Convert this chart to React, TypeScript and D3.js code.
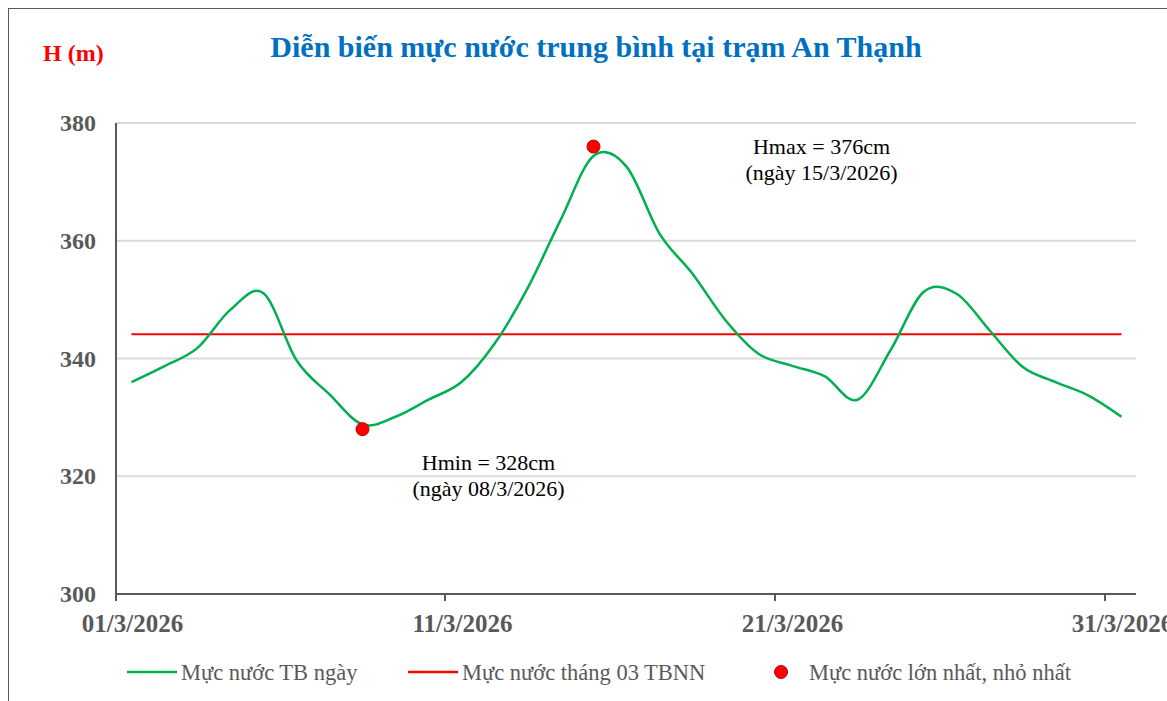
import React from 'react'
import * as d3 from 'd3'

// ngày trong tháng 3/2026
const days = [1, 2, 3, 4, 5, 6, 7, 8, 9, 10, 11, 12, 13, 14, 15, 16, 17, 18, 19, 20, 21, 22, 23, 24, 25, 26, 27, 28, 29, 30, 31]
// mực nước TB ngày (cm)
const waterLevel = [336, 338.7, 341.8, 348.3, 351.1, 339.7, 333.9, 328.8, 330.1, 333.0, 336.0, 342.5, 351.9, 363.5, 374.4, 372.6, 361.2, 354.4, 346.5, 340.8, 338.8, 337.0, 333.0, 341.4, 351.3, 351.0, 344.8, 338.6, 336.0, 333.7, 330.1]
// mực nước tháng 03 TBNN
const meanLevel = 344.1
// lớn nhất, nhỏ nhất
const extremeDays = [8, 15]
const extremeValues = [328, 376]
const extremeLabels = [['Hmin = 328cm', '(ngày 08/3/2026)'], ['Hmax = 376cm', '(ngày 15/3/2026)']]

const xTickDays = [1, 11, 21, 31]
const xTickLabels = ['01/3/2026', '11/3/2026', '21/3/2026', '31/3/2026']
const yTicks = [300, 320, 340, 360, 380]

const legendItems = ['Mực nước TB ngày', 'Mực nước tháng 03 TBNN', 'Mực nước lớn nhất, nhỏ nhất']

const W = 1167
const H = 701
const serif = "'Times New Roman', 'Liberation Serif', serif"
const axisGray = '#595959'

export default function App() {
  const x = d3.scaleBand<number>().domain(days).range([115, 1138]).padding(0)
  const cx = (d: number) => (x(d) as number) + x.bandwidth() / 2
  const y = d3.scaleLinear().domain([300, 380]).range([594, 123])
  const plotLeft = 116
  const plotRight = 1136

  const line = d3.line<number>()
    .x((_, i) => cx(days[i]))
    .y(v => y(v))
    .curve(d3.curveCardinal.tension(0))

  const meanLine = d3.line<number>()
    .x(d => cx(d))
    .y(() => y(meanLevel))

  // vị trí chú thích, lệch so với điểm
  const labelOffsets = [[126, 41], [228, 7]]

  return (
    <svg width={W} height={H} style={{ position: 'fixed', left: 0, top: 0, background: '#fff' }}>
      <rect x={8.5} y={8.5} width={W + 20} height={H + 20} fill="#fff" stroke="#595959" strokeWidth={1} />

      <text x={596} y={57} textAnchor="middle" fontFamily={serif} fontWeight="bold" fontSize={30} fill="#0070C0">
        Diễn biến mực nước trung bình tại trạm An Thạnh
      </text>
      <text x={43} y={61} fontFamily={serif} fontWeight="bold" fontSize={24} fill="#FF0000">H (m)</text>

      {/* lưới */}
      {yTicks.filter(t => t > 300).map(t => (
        <line key={t} x1={plotLeft} x2={plotRight} y1={y(t)} y2={y(t)} stroke="#d9d9d9" strokeWidth={2} />
      ))}
      {yTicks.map(t => (
        <text key={t} x={96} y={y(t) + 8} textAnchor="end" fontFamily={serif} fontWeight="bold" fontSize={24} fill={axisGray}>
          {t}
        </text>
      ))}

      {/* trục */}
      <line x1={plotLeft} x2={plotLeft} y1={y(380)} y2={y(300) + 7} stroke={axisGray} strokeWidth={2} />
      <line x1={plotLeft} x2={plotRight} y1={y(300)} y2={y(300)} stroke={axisGray} strokeWidth={2} />
      {xTickDays.map((d, i) => (
        <g key={d}>
          {i > 0 && <line x1={x(d)} x2={x(d)} y1={y(300)} y2={y(300) + 7} stroke={axisGray} strokeWidth={2} />}
          <text x={cx(d) + 1} y={632} textAnchor="middle" fontFamily={serif} fontWeight="bold" fontSize={25} fill={axisGray}>
            {xTickLabels[i]}
          </text>
        </g>
      ))}

      <path d={meanLine(days) || ''} fill="none" stroke="#FF0000" strokeWidth={2} />
      <path d={line(waterLevel) || ''} fill="none" stroke="#00B050" strokeWidth={2.5} />

      {extremeDays.map((d, i) => (
        <g key={d}>
          <circle cx={cx(d)} cy={y(extremeValues[i])} r={6.5} fill="#FF0000" stroke="#C00000" strokeWidth={1} />
          {extremeLabels[i].map((s, j) => (
            <text key={j} x={cx(d) + labelOffsets[i][0]} y={y(extremeValues[i]) + labelOffsets[i][1] + j * 26}
              textAnchor="middle" fontFamily={serif} fontSize={22} fill="#000">
              {s}
            </text>
          ))}
        </g>
      ))}

      {/* chú giải */}
      <g fontFamily={serif} fontSize={22.5} fill={axisGray}>
        <line x1={127} x2={177} y1={672} y2={672} stroke="#00B050" strokeWidth={2.5} />
        <text x={181} y={680}>{legendItems[0]}</text>
        <line x1={408} x2={458} y1={672} y2={672} stroke="#FF0000" strokeWidth={2.5} />
        <text x={462} y={680}>{legendItems[1]}</text>
        <circle cx={781} cy={672} r={6.5} fill="#FF0000" stroke="#C00000" strokeWidth={1} />
        <text x={809} y={680}>{legendItems[2]}</text>
      </g>
    </svg>
  )
}
